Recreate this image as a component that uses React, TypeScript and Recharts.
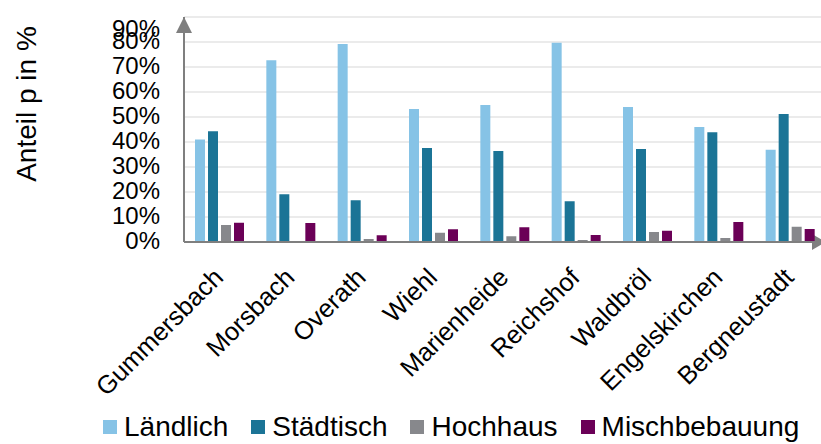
import * as React from 'react';
import {
  BarChart,
  Bar,
  XAxis,
  YAxis,
  CartesianGrid,
  Legend,
  usePlotArea,
} from 'recharts';

const categories = [
  'Gummersbach',
  'Morsbach',
  'Overath',
  'Wiehl',
  'Marienheide',
  'Reichshof',
  'Waldbröl',
  'Engelskirchen',
  'Bergneustadt',
];
const laendlich = [41, 72.7, 79.2, 53.2, 54.8, 79.7, 54, 46, 36.9];
const staedtisch = [44.3, 19.1, 16.7, 37.6, 36.4, 16.3, 37.2, 43.9, 51.2];
const hochhaus = [6.8, 0, 1.2, 3.7, 2.3, 0.8, 4, 1.6, 6.1];
const misch = [7.7, 7.6, 2.7, 5.1, 5.9, 2.8, 4.5, 8, 5.2];
const yTicks = [0, 10, 20, 30, 40, 50, 60, 70, 80, 90];

const SERIES = [
  { key: 'laendlich', name: 'Ländlich', color: '#86c3e6' },
  { key: 'staedtisch', name: 'Städtisch', color: '#1b7496' },
  { key: 'hochhaus', name: 'Hochhaus', color: '#87888c' },
  { key: 'misch', name: 'Mischbebauung', color: '#6b0057' },
];

const data = categories.map((c, i) => ({
  name: c,
  laendlich: laendlich[i],
  staedtisch: staedtisch[i],
  hochhaus: hochhaus[i],
  misch: misch[i],
}));

const FONT = '"Liberation Sans", Arial, sans-serif';
const AXIS = '#7f7f7f';

function YTick({ x, y, payload }: any) {
  // excel pushes the top label down so it stays inside the picture
  const ty = Math.max(y - 2, 28);
  return (
    <text
      x={x}
      y={ty}
      textAnchor="end"
      dominantBaseline="central"
      fontSize={24}
      fontFamily={FONT}
      fill="#000"
    >
      {payload.value}%
    </text>
  );
}

function XTick({ x, y, payload }: any) {
  return (
    <g transform={`translate(${x + 5},${y + 29})`}>
      <text
        textAnchor="end"
        transform="rotate(-45)"
        fontSize={25.5}
        fontFamily={FONT}
        fill="#000"
      >
        {payload.value}
      </text>
    </g>
  );
}

function Arrows() {
  const area = usePlotArea();
  if (!area) return null;
  const { x, y, width, height } = area;
  const bottom = y + height;
  const right = x + width;
  return (
    <g>
      <polygon
        points={`${x},${y} ${x - 8},${y + 16} ${x + 8},${y + 16}`}
        fill={AXIS}
      />
      <polygon
        points={`${right},${bottom} ${right - 14},${bottom - 8} ${right - 14},${bottom + 8}`}
        fill={AXIS}
      />
      <text
        transform={`translate(26,104) rotate(-90)`}
        textAnchor="middle"
        dominantBaseline="central"
        fontSize={28}
        fontFamily={FONT}
        fill="#000"
      >
        Anteil p in %
      </text>
    </g>
  );
}

function LegendContent() {
  return (
    <div
      style={{
        display: 'flex',
        alignItems: 'center',
        fontFamily: FONT,
        fontSize: 28,
        color: '#000',
        whiteSpace: 'nowrap',
      }}
    >
      {SERIES.map((s) => (
        <div
          key={s.key}
          style={{ display: 'flex', alignItems: 'center', marginRight: 23 }}
        >
          <span
            style={{
              width: 14,
              height: 14,
              background: s.color,
              marginRight: 7,
              display: 'inline-block',
            }}
          />
          <span>{s.name}</span>
        </div>
      ))}
    </div>
  );
}

export default function App() {
  return (
    <div
      style={{
        position: 'absolute',
        left: 0,
        top: 0,
        width: 821,
        height: 444,
        overflow: 'hidden',
        background: '#fff',
      }}
    >
      <BarChart
        width={826}
        height={444}
        data={data}
        margin={{ top: 17, right: 0, bottom: 0, left: 0 }}
        barSize={10}
        barGap={3}
      >
        <CartesianGrid
          vertical={false}
          stroke="#e4e4e4"
          strokeWidth={1.5}
        />
        <XAxis
          dataKey="name"
          height={202}
          interval={0}
          tickLine={false}
          axisLine={{ stroke: AXIS, strokeWidth: 2 }}
          tick={<XTick />}
        />
        <YAxis
          width={184}
          domain={[0, 90]}
          ticks={yTicks}
          interval={0}
          tickLine={false}
          tickMargin={18}
          axisLine={{ stroke: AXIS, strokeWidth: 2 }}
          tick={<YTick />}
        />
        {SERIES.map((s) => (
          <Bar
            key={s.key}
            dataKey={s.key}
            name={s.name}
            fill={s.color}
            isAnimationActive={false}
          />
        ))}
        <Legend
          layout="horizontal"
          verticalAlign="middle"
          align="center"
          wrapperStyle={{ top: 411, left: 103, width: 'auto' }}
          content={<LegendContent />}
        />
        <Arrows />
      </BarChart>
    </div>
  );
}
